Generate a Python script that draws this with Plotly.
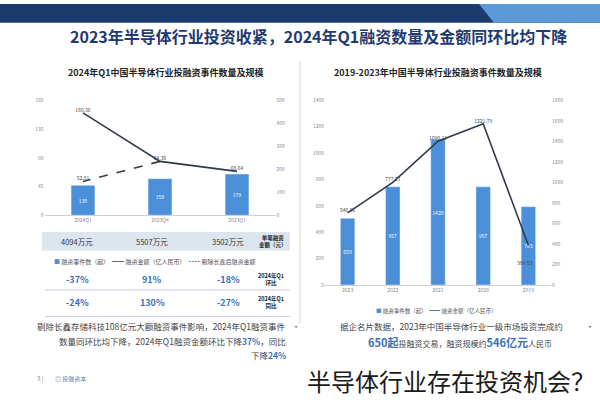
import plotly.graph_objects as go

# ---------------- data ----------------
quarters = ["2023Q1", "2023Q4", "2024Q1"]
q_events = [179, 159, 130]                 # 融资事件数（起）
q_amount = [68.64, 84.36, 160.36]           # 融资金额（亿人民币）
q_adjusted = [None, 84.36, 52.81]           # 剔除长鑫后融资金额

years = ["2019", "2020", "2021", "2022", "2023"]
y_events = [763, 957, 1420, 957, 650]
y_amount = [300.53, 1221.79, 1090.11, 777.21, 546.86]

table_single = ["3502万元", "5507万元", "4094万元"]
table_qoq = ["-18%", "91%", "-37%"]
table_yoy = ["-27%", "130%", "-24%"]

FONT = "Noto Sans CJK SC"
W, H = 600, 400
BAR = "#4a8fd8"
LINE = "#2f3b4c"


def px(x):
    return x / W


def py(y):
    return (H - y) / H


fig = go.Figure()

# ---- left chart (2024Q1) ----
fig.add_trace(go.Bar(x=quarters, y=q_events, xaxis="x", yaxis="y", marker_color=BAR,
                     width=0.31, text=[str(v) for v in q_events], textposition="inside",
                     insidetextanchor="middle", textangle=0, constraintext="none",
                     textfont=dict(size=5, color="white", family=FONT), showlegend=False))
fig.add_trace(go.Scatter(x=quarters, y=q_amount, xaxis="x", yaxis="y2", mode="lines+text",
                         line=dict(color=LINE, width=1.6),
                         text=[f"{v:.2f}" for v in q_amount], textposition="top center",
                         textfont=dict(size=5, color="#444", family=FONT), showlegend=False))
fig.add_trace(go.Scatter(x=quarters, y=q_adjusted, xaxis="x", yaxis="y2", mode="lines+text",
                         line=dict(color="#3a3a3a", width=1.6, dash="dash"),
                         text=["", "", f"{q_adjusted[2]:.2f}"], textposition="top center",
                         textfont=dict(size=5, color="#444", family=FONT), showlegend=False))

# ---- right chart (2019-2023) ----
fig.add_trace(go.Bar(x=years, y=y_events, xaxis="x2", yaxis="y3", marker_color=BAR,
                     width=0.32, text=[str(v) for v in y_events], textposition="inside",
                     insidetextanchor="middle", textangle=0, constraintext="none",
                     textfont=dict(size=5, color="white", family=FONT), showlegend=False))
fig.add_trace(go.Scatter(x=years, y=y_amount, xaxis="x2", yaxis="y4", mode="lines+text",
                         line=dict(color=LINE, width=1.6),
                         text=[""] + [f"{v:.2f}" for v in y_amount[1:]],
                         textposition="top center",
                         textfont=dict(size=5, color="#444", family=FONT), showlegend=False))

tickf = dict(size=5, color="#888", family=FONT)

fig.update_layout(
    width=W, height=H,
    margin=dict(l=0, r=0, t=0, b=0),
    paper_bgcolor="white", plot_bgcolor="rgba(0,0,0,0)",
    font=dict(family=FONT),
    xaxis=dict(domain=[px(44.5), px(275.5)], type="category", categoryorder="array",
               categoryarray=quarters, autorange="reversed", anchor="y",
               showline=True, linecolor="#d0d0d0", linewidth=1, ticks="", tickfont=tickf,
               showgrid=False),
    yaxis=dict(domain=[py(215), py(98)], range=[0, 500], dtick=100, side="right", anchor="x",
               showgrid=False, zeroline=False, tickfont=tickf, ticks=""),
    yaxis2=dict(range=[0, 180], tickvals=[0, 45, 90, 135, 180], side="left", overlaying="y",
                anchor="x", showgrid=False, zeroline=False, tickfont=tickf, ticks=""),
    xaxis2=dict(domain=[px(325), px(551)], type="category", categoryorder="array",
                categoryarray=years, autorange="reversed", anchor="y3",
                showline=True, linecolor="#d0d0d0", linewidth=1, ticks="", tickfont=tickf,
                showgrid=False),
    yaxis3=dict(domain=[py(286), py(98)], range=[0, 1800], dtick=200, side="right", anchor="x2",
                showgrid=False, zeroline=False, tickfont=tickf, ticks=""),
    yaxis4=dict(range=[0, 1400], dtick=200, side="left", overlaying="y3", anchor="x2",
                showgrid=False, zeroline=False, tickfont=tickf, ticks=""),
)

shapes = [
    dict(type="rect", xref="paper", yref="paper", x0=0, x1=1, y0=py(19), y1=py(0),
         fillcolor="#1d3a6c", line_width=0, layer="below"),
    dict(type="path", xref="paper", yref="paper",
         path=f"M {px(479)} {py(0)} L 1 {py(0)} L 1 {py(19)} L {px(494)} {py(19)} Z",
         fillcolor="#5b9ad6", line_width=0, layer="below"),
    dict(type="line", xref="paper", yref="paper", x0=px(300), x1=px(300), y0=py(58), y1=py(325),
         line=dict(color="#d6d6d6", width=1)),
    dict(type="rect", xref="paper", yref="paper", x0=px(42), x1=px(290), y0=py(251), y1=py(232),
         fillcolor="#dde5ef", line_width=0, layer="below"),
    dict(type="line", xref="paper", yref="paper", x0=px(45), x1=px(290), y0=py(291), y1=py(291),
         line=dict(color="#c9d3df", width=1)),
    dict(type="line", xref="paper", yref="paper", x0=px(45), x1=px(290), y0=py(318), y1=py(318),
         line=dict(color="#c9d3df", width=1)),
]
fig.update_layout(shapes=shapes)

ann = []

# label of the 2019 amount point, placed below the point (category index on the x axis)
ann.append(dict(x=years.index("2019"), y=y_amount[0], xref="x2", yref="y4",
                text=f"{y_amount[0]:.2f}", showarrow=False, yshift=-17, xshift=-4,
                font=dict(size=5, color="#444", family=FONT)))


def txt(x, y, s, size=7, color="#333", xanchor="center", align="center", **kw):
    ann.append(dict(x=px(x), y=py(y), xref="paper", yref="paper", text=s, showarrow=False,
                    xanchor=xanchor, yanchor="middle", align=align,
                    font=dict(size=size, color=color, family=FONT), **kw))


txt(318, 33, "<b>2023年半导体行业投资收紧，2024年Q1融资数量及金额同环比均下降</b>", size=16, color="#1f3a70")
txt(165, 70, "<b>2024年Q1中国半导体行业投融资事件数量及规模</b>", size=9, color="#222")
txt(438, 70, "<b>2019-2023年中国半导体行业投融资事件数量及规模</b>", size=9, color="#222")

# table
for xc, v in zip([228, 152, 77], table_single):
    txt(xc, 242, v, size=7.5, color="#333")
txt(273, 242, "<b>单笔融资<br>金额（元）</b>", size=5.5, color="#222")
for xc, v in zip([228, 152, 77], table_qoq):
    txt(xc, 280, f"<b>{v}</b>", size=9, color="#3b6fb6")
txt(271, 280, "<b>2024年Q1<br>环比</b>", size=5.5, color="#222")
for xc, v in zip([228, 152, 77], table_yoy):
    txt(xc, 304, f"<b>{v}</b>", size=9, color="#3b6fb6")
txt(271, 304, "<b>2024年Q1<br>同比</b>", size=5.5, color="#222")

# legends
txt(155, 262, f"<span style='color:{BAR}'>■</span> 融资事件数（起）  "
              f"<span style='color:{LINE}'>━━</span> 融资金额（亿人民币）  "
              f"<span style='color:#3a3a3a'>╍╍</span> 剔除长鑫后融资金额", size=6, color="#555")
txt(436, 312, f"<span style='color:{BAR}'>■</span> 融资事件数（起）  "
              f"<span style='color:{LINE}'>━━</span> 融资金额（亿人民币）", size=5.5, color="#555")

# bullets
txt(288, 328, "剔除长鑫存储科技108亿元大额融资事件影响，2024年Q1融资事件", size=8.5,
    color="#444", xanchor="right", align="right")
txt(288, 343, "数量同环比均下降，2024年Q1融资金额环比下降<b><span style='color:#3b6fb6'>37%</span></b>，同比",
    size=8.5, color="#444", xanchor="right", align="right")
txt(288, 357, "下降<b><span style='color:#3b6fb6'>24%</span></b>", size=8.5, color="#444",
    xanchor="right", align="right")
txt(296, 328, "•", size=8, color="#444")

txt(451, 328, "据企名片数据，2023年中国半导体行业一级市场投资完成约", size=8.5, color="#444")
txt(460, 344, "<b><span style='color:#3b6fb6;font-size:11px'>650起</span></b>投融资交易，融资规模约"
              "<b><span style='color:#3b6fb6;font-size:11px'>546亿元</span></b>人民币",
    size=8, color="#444")
txt(590, 328, "•", size=8, color="#444")

# footer
txt(40, 381, "3 |", size=6, color="#888")
txt(70, 381, "◎ 投融资本", size=6, color="#5b7fb0")
txt(451, 383, "半导体行业存在投资机会？", size=24, color="#1a1a1a")

fig.update_layout(annotations=ann)

fig.write_html("out.html")
